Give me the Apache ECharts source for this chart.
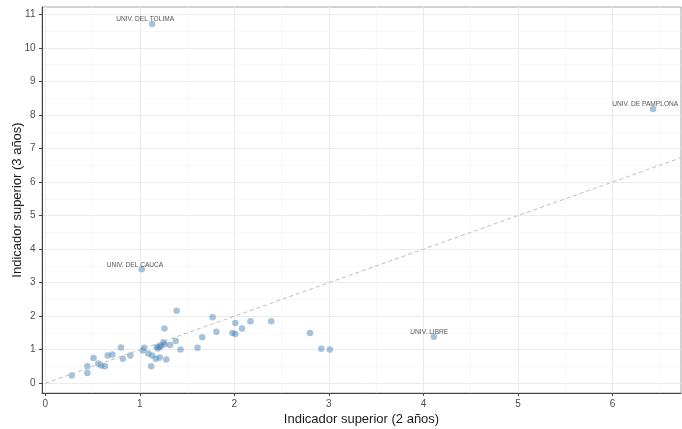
<!DOCTYPE html>
<html>
<head>
<meta charset="utf-8">
<script src="https://cdn.jsdelivr.net/npm/echarts@6/dist/echarts.min.js"></script>
<style>
  html, body { margin: 0; padding: 0; background: #ffffff; }
  #chart { width: 682px; height: 429px; }
</style>
</head>
<body>
<div id="chart"></div>
<script>
// Indicator values per university: 2-year window (x) vs 3-year window (y)
const twoYear = [
  0.28, 0.445, 0.445, 0.51, 0.56, 0.59, 0.63, 0.66, 0.71, 0.80,
  0.82, 0.90, 1.03, 1.045, 1.09, 1.13, 1.12, 1.17, 1.18, 1.19,
  1.21, 1.21, 1.22, 1.26, 1.25, 1.26, 1.28, 1.32, 1.38, 1.39,
  1.43, 1.61, 1.66, 1.77, 1.81, 1.98, 2.01, 2.01, 2.08, 2.17,
  2.39, 2.80, 2.92, 3.01
];
const threeYear = [
  0.23, 0.51, 0.31, 0.75, 0.59, 0.53, 0.51, 0.83, 0.86, 1.07,
  0.73, 0.83, 0.98, 1.06, 0.89, 0.83, 0.51, 0.73, 1.08, 1.04,
  1.08, 0.77, 1.12, 1.63, 1.22, 1.16, 0.71, 1.14, 1.26, 2.16,
  1.01, 1.06, 1.37, 1.97, 1.54, 1.50, 1.80, 1.47, 1.63, 1.85,
  1.85, 1.50, 1.03, 1.01
];

// Universities singled out with a text label
const namedUniversities = ['UNIV. DEL TOLIMA', 'UNIV. DE PAMPLONA', 'UNIV. DEL CAUCA', 'UNIV. LIBRE'];
const namedTwoYear = [1.13, 6.43, 1.02, 4.11];
const namedThreeYear = [10.71, 8.18, 3.40, 1.39];

// Axis breaks
const xTicks = [0, 1, 2, 3, 4, 5, 6];
const yTicks = [0, 1, 2, 3, 4, 5, 6, 7, 8, 9, 10, 11];
const xMinorTicks = [0.5, 1.5, 2.5, 3.5, 4.5, 5.5, 6.5];
const yMinorTicks = [0.5, 1.5, 2.5, 3.5, 4.5, 5.5, 6.5, 7.5, 8.5, 9.5, 10.5];
const xRange = [-0.035, 6.725];
const yRange = [-0.29, 11.22];

const FONT = '"Liberation Sans", Arial, sans-serif';
const LABEL_SIZE = 6.6;

// text width, used to anchor each label slightly right of its centre
const measureCtx = document.createElement('canvas').getContext('2d');
measureCtx.font = LABEL_SIZE + 'px ' + FONT;
const textWidth = (s) => measureCtx.measureText(s).width;

const points = twoYear.map((x, i) => [x, threeYear[i]]);
const namedPoints = namedUniversities.map((name, i) => ({
  name: name,
  value: [namedTwoYear[i], namedThreeYear[i]],
  label: { offset: [-0.12 * textWidth(name), -4.5] }
}));
// identity line y = x across the panel
const identityLine = [[0, 0], [xRange[1], xRange[1]]];

const chart = echarts.init(document.getElementById('chart'), null, { renderer: 'canvas' });

const pointStyle = { color: 'rgba(70,130,180,0.6)', borderWidth: 0 };

chart.setOption({
  animation: false,
  backgroundColor: '#ffffff',
  grid: {
    left: 42, top: 7, right: 1, bottom: 36,
    containLabel: false, outerBoundsMode: 'none',
    show: true, borderColor: '#a6a6a6', borderWidth: 1, backgroundColor: 'transparent'
  },
  xAxis: [
    {
      type: 'value', min: xRange[0], max: xRange[1],
      name: 'Indicador superior (2 años)', nameLocation: 'middle', nameGap: 19.5,
      nameMoveOverlap: false,
      nameTextStyle: { fontFamily: FONT, fontSize: 13, color: '#1a1a1a' },
      axisLine: { show: true, onZero: false, lineStyle: { color: '#444444', width: 1 } },
      axisTick: { show: true, length: 3, customValues: xTicks, lineStyle: { color: '#444444' } },
      axisLabel: { customValues: xTicks, margin: 6.5, fontFamily: FONT, fontSize: 10, color: '#4d4d4d' },
      splitLine: { show: true, lineStyle: { color: '#ebebeb', width: 1 } }
    },
    {
      type: 'value', min: xRange[0], max: xRange[1], position: 'bottom',
      axisLine: { show: false }, axisLabel: { show: false },
      axisTick: { show: false, customValues: xMinorTicks },
      splitLine: { show: true, lineStyle: { color: '#f3f3f3', width: 0.6 } }
    }
  ],
  yAxis: [
    {
      type: 'value', min: yRange[0], max: yRange[1],
      name: 'Indicador superior (3 años)', nameLocation: 'middle', nameGap: 18.5,
      nameMoveOverlap: false,
      nameTextStyle: { fontFamily: FONT, fontSize: 13, color: '#1a1a1a' },
      axisLine: { show: true, onZero: false, lineStyle: { color: '#444444', width: 1 } },
      axisTick: { show: true, length: 3, customValues: yTicks, lineStyle: { color: '#444444' } },
      axisLabel: { customValues: yTicks, margin: 6.5, fontFamily: FONT, fontSize: 10, color: '#4d4d4d' },
      splitLine: { show: true, lineStyle: { color: '#ebebeb', width: 1 } }
    },
    {
      type: 'value', min: yRange[0], max: yRange[1], position: 'left',
      axisLine: { show: false }, axisLabel: { show: false },
      axisTick: { show: false, customValues: yMinorTicks },
      splitLine: { show: true, lineStyle: { color: '#f3f3f3', width: 0.6 } }
    }
  ],
  series: [
    {
      type: 'line', data: identityLine, xAxisIndex: 0, yAxisIndex: 0,
      symbol: 'none', silent: true, clip: true,
      lineStyle: { color: '#bdbdbd', width: 1, type: [4, 3] }
    },
    {
      type: 'scatter', data: points, xAxisIndex: 0, yAxisIndex: 0,
      symbol: 'circle', symbolSize: 6.5, itemStyle: pointStyle
    },
    {
      type: 'scatter', data: namedPoints, xAxisIndex: 0, yAxisIndex: 0,
      symbol: 'circle', symbolSize: 6.5, itemStyle: pointStyle,
      label: {
        show: true, position: 'inside', offset: [0, -4.5],
        formatter: '{b}', fontFamily: FONT, fontSize: LABEL_SIZE, color: '#262626'
      }
    }
  ]
});
</script>
</body>
</html>
